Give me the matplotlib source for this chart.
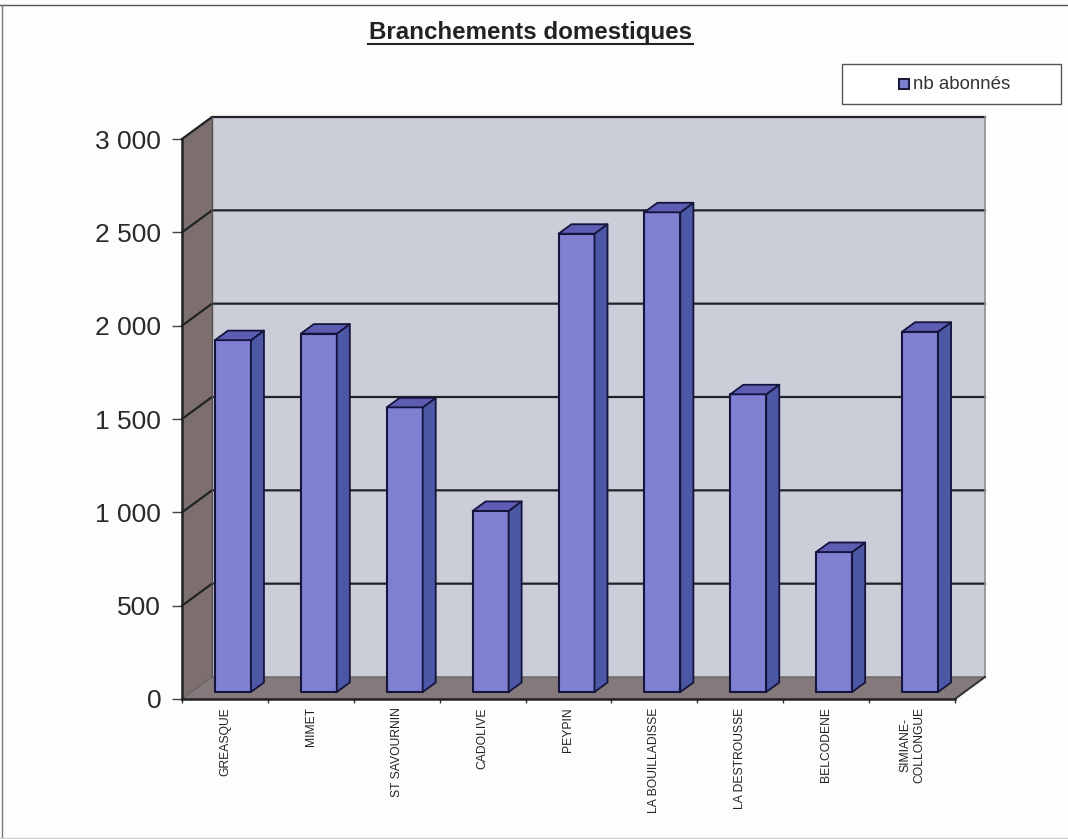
import matplotlib
matplotlib.use('Agg')
import matplotlib.pyplot as plt
from matplotlib.patches import Polygon, Rectangle
from matplotlib.lines import Line2D

plt.rcParams['font.family'] = ['Liberation Sans', 'DejaVu Sans']

communes = ['GREASQUE', 'MIMET', 'ST SAVOURNIN', 'CADOLIVE', 'PEYPIN', 'LA BOUILLADISSE',
            'LA DESTROUSSE', 'BELCODENE', 'SIMIANE-\nCOLLONGUE']
abonnes = [1885, 1920, 1525, 970, 2455, 2570, 1595, 750, 1930]
y_ticks = [0, 500, 1000, 1500, 2000, 2500, 3000]

W, H = 1068, 839
fig = plt.figure(figsize=(W / 100, H / 100), dpi=100, facecolor='#fdfdfb')

# front plane of the excel style 3d box, in pixels
left, right, top, bottom = 182, 955, 139, 699
ax = fig.add_axes([left / W, 1 - bottom / H, (right - left) / W, (bottom - top) / H])
ax.set_xlim(0, len(communes))
ax.set_ylim(0, 3000)
ax.patch.set_visible(False)

# pixel sizes converted to data units
px_x = len(communes) / (right - left)
px_y = 3000 / (bottom - top)
dx, dy = 30 * px_x, 22 * px_y
n = len(communes)


def poly(pts, fc, ec='none', lw=0, z=1):
    ax.add_patch(Polygon(pts, closed=True, facecolor=fc, edgecolor=ec, linewidth=lw,
                         zorder=z, clip_on=False, joinstyle='round'))


# walls
poly([(dx, dy), (n + dx, dy), (n + dx, 3000 + dy), (dx, 3000 + dy)], '#cbced9')
poly([(0, 0), (dx, dy), (dx, 3000 + dy), (0, 3000)], '#7c6f6e')
poly([(0, 0), (n, 0), (n + dx, dy), (dx, dy)], '#857a7b')

# grid lines on the walls
for v in y_ticks[1:]:
    ax.plot([0, dx, n + dx], [v, v + dy, v + dy], color='#1f2326', lw=1.6, zorder=2, clip_on=False)
ax.plot([0, dx, n + dx], [0, dy, dy], color='#6a6565', lw=1, zorder=2, clip_on=False)
ax.plot([dx, dx], [dy, 3000 + dy], color='#55504f', lw=1, zorder=2, clip_on=False)
ax.plot([n + dx, n + dx], [dy, 3000 + dy], color='#8f8f92', lw=1.2, zorder=2, clip_on=False)
ax.plot([n, n + dx], [0, dy], color='#30302f', lw=1.4, zorder=2, clip_on=False)

# bars
bar_w = 36 * px_x
shift_x, shift_y = 8 * px_x, 7 * px_y
depth_x, depth_y = 13 * px_x, 9.5 * px_y
edge = '#14143c'
for i, val in enumerate(abonnes):
    x0 = i + 0.5 + shift_x - bar_w / 2
    x1 = x0 + bar_w
    y0 = shift_y
    y1 = y0 + val
    poly([(x0, y0), (x1, y0), (x1, y1), (x0, y1)], '#7f80d2', edge, 1.5, 3)
    poly([(x1, y0), (x1 + depth_x, y0 + depth_y), (x1 + depth_x, y1 + depth_y), (x1, y1)],
         '#4c58a6', edge, 1.3, 3)
    poly([(x0, y1), (x1, y1), (x1 + depth_x, y1 + depth_y), (x0 + depth_x, y1 + depth_y)],
         '#5d5db4', edge, 1.3, 3)

# axes
for s in ['top', 'right']:
    ax.spines[s].set_visible(False)
for s in ['left', 'bottom']:
    ax.spines[s].set_linewidth(1.8)
    ax.spines[s].set_color('#222222')
    ax.spines[s].set_zorder(4)
ax.set_yticks(y_ticks)
ax.set_yticklabels([f'{v:,}'.replace(',', ' ') for v in y_ticks], fontsize=19, color='#2a2a2a')
ax.tick_params(axis='y', length=7, width=1, pad=8, color='#444444')
ax.set_xticks(range(n + 1))
ax.set_xticklabels([])
ax.tick_params(axis='x', which='major', length=3, width=1, color='#333333')
ax.set_xticks([i + 0.5 for i in range(n)], minor=True)
ax.set_xticklabels(communes, minor=True, rotation=90, fontsize=8.7, color='#222222',
                   ha='center', va='top', multialignment='center')
ax.tick_params(axis='x', which='minor', length=0, pad=6)

# title
fig.text(530.5 / W, 1 - 33 / H, 'Branchements domestiques', ha='center', va='center',
         fontsize=17.4, fontweight='bold', color='#222222')
fig.add_artist(Line2D([368 / W, 693 / W], [1 - 44 / H, 1 - 44 / H], color='#222222', lw=1.5))

# legend box
fig.add_artist(Rectangle((842 / W, 1 - 104 / H), 219 / W, 40 / H, transform=fig.transFigure,
                         facecolor='white', edgecolor='#555555', lw=1))
fig.add_artist(Rectangle((899 / W, 1 - 89 / H), 10 / W, 10 / H, transform=fig.transFigure,
                         facecolor='#7f80d2', edgecolor='#1c1c3c', lw=1.5))
fig.text(913 / W, 1 - 84.5 / H, 'nb abonnés', ha='left', va='center', fontsize=13.4, color='#333333')

# scanned page frame
fig.add_artist(Line2D([0, 1], [1 - 5 / H, 1 - 5 / H], color='#555555', lw=1))
fig.add_artist(Line2D([2 / W, 2 / W], [0, 1 - 5 / H], color='#777777', lw=1))
fig.add_artist(Line2D([0, 1], [1 / H, 1 / H], color='#cccccc', lw=1))

fig.savefig('out.png', dpi=100, facecolor=fig.get_facecolor())
